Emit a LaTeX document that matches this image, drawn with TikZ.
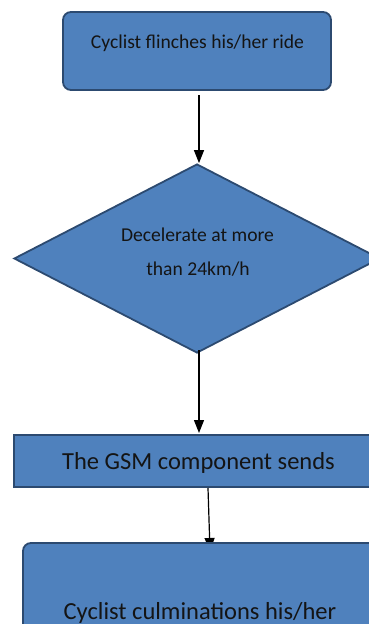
\documentclass[tikz,border=0pt]{standalone}
\usepackage{fontspec}
\setmainfont{Carlito}
\usetikzlibrary{shapes.geometric,arrows.meta}
\definecolor{boxfill}{HTML}{4F81BD}
\definecolor{boxline}{HTML}{2C4A70}
\definecolor{txt}{HTML}{141414}
\begin{document}
\begin{tikzpicture}[x=1pt,y=-1pt,
  flowbox/.style={draw=boxline,fill=boxfill,line width=1.8pt},
  flowtext/.style={text=txt,inner sep=0pt,anchor=center},
  conn/.style={draw=black,line width=1.2pt,-{Triangle[length=13pt,width=10pt]}}]
\useasboundingbox (0,0) rectangle (369,624);
\clip (0,0) rectangle (369,624);
% top box
\node[flowbox,rounded corners=8pt,minimum width=268pt,minimum height=78pt,inner sep=0pt] (top) at (197,51) {};
\node[flowtext,font=\fontsize{19.6}{22}\selectfont] (toptext) at (197.5,43) {Cyclist flinches his/her ride};
% diamond
\node[flowbox,diamond,minimum width=366pt,minimum height=189pt,inner sep=0pt] (dec) at (197,258.5) {};
\node[flowtext,font=\fontsize{19.6}{22}\selectfont] (dectext1) at (197.5,235) {Decelerate at more};
\node[flowtext,font=\fontsize{19.6}{22}\selectfont] (dectext2) at (198,269) {than 24km/h};
% GSM box
\node[flowbox,minimum width=366pt,minimum height=52pt,inner sep=0pt] (gsm) at (197,461) {};
\node[flowtext,font=\fontsize{24.5}{28}\selectfont] (gsmtext) at (198.5,463) {The GSM component sends};
% connectors
\coordinate (a1s) at (199,95);
\coordinate (a2s) at (199,350);
\coordinate (a2e) at (199,433);
\coordinate (a3s) at (208,488);
\coordinate (a3e) at (210,551);
\draw[conn] (a1s) -- (dec.north -| a1s);
\draw[conn] (a2s) -- (a2e);
\draw[conn] (a3s) -- (a3e);
% bottom box (drawn over the last arrow head)
\node[flowbox,rounded corners=8pt,minimum width=377pt,minimum height=117pt,inner sep=0pt] (bot) at (211.5,601.5) {};
\node[flowtext,font=\fontsize{24.5}{28}\selectfont] (bottext) at (200,613) {Cyclist culminations his/her};
\end{tikzpicture}
\end{document}
